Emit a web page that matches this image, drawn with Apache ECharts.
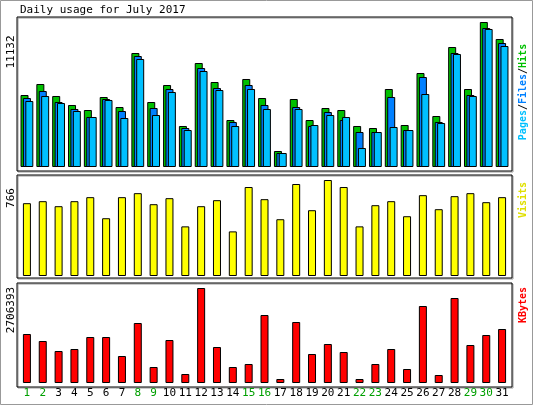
<!DOCTYPE html>
<html>
<head>
<meta charset="utf-8">
<script src="https://cdn.jsdelivr.net/npm/echarts@6/dist/echarts.min.js"></script>
<style>html,body{margin:0;padding:0;background:#fff}</style>
</head>
<body>
<div id="main" style="width:533px;height:405px;"></div>
<script>
var days = ['1','2','3','4','5','6','7','8','9','10','11','12','13','14','15','16','17','18','19','20','21','22','23','24','25','26','27','28','29','30','31'];
var weekend = ['1','2','8','9','15','16','22','23','29','30'];
var hits = [5527,6372,5451,4760,4376,5374,4606,8752,4990,6295,3148,7984,6525,3608,6756,5297,1228,5220,3608,4529,4376,3148,2994,5988,3224,7216,3915,9212,5988,11132,9827];
var files = [5297,5835,4990,4453,3839,5220,4299,8521,4529,5988,2994,7600,6065,3455,6295,4760,1075,4606,3148,4222,3608,2687,2687,5374,2840,6909,3455,8752,5527,10671,9519];
var pages = [5067,5451,4913,4299,3839,5144,3762,8291,3992,5758,2840,7370,5911,3148,5988,4453,1075,4453,3224,3992,3839,1459,2687,3071,2840,5604,3378,8675,5451,10594,9289];
var visits = [581,597,557,597,629,461,629,661,573,621,396,557,605,356,710,613,453,734,525,766,710,396,565,597,477,645,533,637,661,589,629];
var kbytes = [1395912,1196496,911616,968592,1310448,1310448,769176,1709280,455808,1224984,256392,2706393,1025568,455808,541272,1937184,113952,1737768,826152,1111032,883128,113952,541272,968592,398832,2193576,227904,2421480,1082544,1367424,1538352];

var mono = 'DejaVu Sans Mono';
var chart = echarts.init(document.getElementById('main'));

function frame(y, h) {
  return [
    {type:'rect', shape:{x:18, y:y+1, width:495, height:h}, style:{fill:'none', stroke:'#999', lineWidth:1}},
    {type:'rect', shape:{x:17, y:y, width:495, height:h}, style:{fill:'none', stroke:'#000', lineWidth:1}}
  ];
}
function xax(i, show) {
  return {type:'category', gridIndex:i, data:days, axisLine:{show:false}, axisTick:{show:false},
    axisLabel:{show:show, interval:0, margin:5, fontFamily:mono, fontSize:11,
      formatter:function(v){ return weekend.indexOf(v) >= 0 ? '{g|'+v+'}' : v; },
      color:'#000', rich:{g:{color:'#00a000', fontFamily:mono, fontSize:11}}}};
}
function yax(i, max) {
  return {type:'value', gridIndex:i, min:0, max:max, show:false, splitLine:{show:false}};
}
var edge = {borderColor:'#000', borderWidth:1};

chart.setOption({
  animation:false,
  grid:[
    {left:19, right:23, top:22, height:145},
    {left:19, right:23, top:180, height:96},
    {left:19, right:23, top:288, height:95}
  ],
  xAxis:[xax(0,false), xax(1,false), xax(2,true)],
  yAxis:[yax(0,11132), yax(1,766), yax(2,2706393)],
  series:[
    {type:'bar', name:'Hits', xAxisIndex:0, yAxisIndex:0, data:hits, barWidth:8, barGap:'-70%', itemStyle:Object.assign({color:'#00c000'}, edge)},
    {type:'bar', name:'Files', xAxisIndex:0, yAxisIndex:0, data:files, barWidth:8, barGap:'-70%', itemStyle:Object.assign({color:'#0080ff'}, edge)},
    {type:'bar', name:'Pages', xAxisIndex:0, yAxisIndex:0, data:pages, barWidth:8, barGap:'-70%', itemStyle:Object.assign({color:'#00c0ff'}, edge)},
    {type:'bar', name:'Visits', xAxisIndex:1, yAxisIndex:1, data:visits, barWidth:8, itemStyle:Object.assign({color:'#ffff00'}, edge)},
    {type:'bar', name:'KBytes', xAxisIndex:2, yAxisIndex:2, data:kbytes, barWidth:8, itemStyle:Object.assign({color:'#ff0000'}, edge)}
  ],
  graphic:[
    {type:'rect', shape:{x:0.5, y:0.5, width:532, height:404}, style:{fill:'none', stroke:'#999', lineWidth:1}}
  ].concat(frame(17,154), frame(175,103), frame(283,104), [
    {type:'text', x:20, y:5, style:{text:'Daily usage for July 2017', font:'11px ' + mono, fill:'#000'}},
    {type:'text', x:6, y:52, rotation:Math.PI/2, style:{text:'11132', font:'11px ' + mono, fill:'#000', align:'center', verticalAlign:'top'}},
    {type:'text', x:6, y:198, rotation:Math.PI/2, style:{text:'766', font:'11px ' + mono, fill:'#000', align:'center', verticalAlign:'top'}},
    {type:'text', x:6, y:310, rotation:Math.PI/2, style:{text:'2706393', font:'11px ' + mono, fill:'#000', align:'center', verticalAlign:'top'}},
    {type:'text', x:518, y:92, rotation:Math.PI/2, style:{text:'{p|Pages}{k|/}{f|Files}{k|/}{h|Hits}', align:'center', verticalAlign:'top',
      rich:{p:{fill:'#00c0ff', font:'bold 10px ' + mono}, f:{fill:'#0080ff', font:'bold 10px ' + mono}, h:{fill:'#00c000', font:'bold 10px ' + mono}, k:{fill:'#000', font:'bold 10px ' + mono}}}},
    {type:'text', x:518, y:200, rotation:Math.PI/2, style:{text:'Visits', font:'bold 10px ' + mono, fill:'#e0e000', align:'center', verticalAlign:'top'}},
    {type:'text', x:518, y:305, rotation:Math.PI/2, style:{text:'KBytes', font:'bold 10px ' + mono, fill:'#ff0000', align:'center', verticalAlign:'top'}}
  ])
});
</script>
</body>
</html>
